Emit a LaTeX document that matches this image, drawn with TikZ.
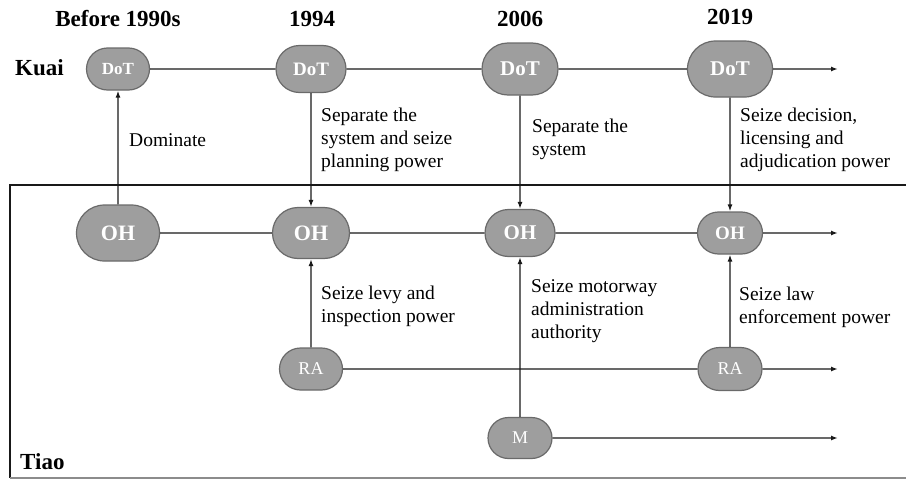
\documentclass[tikz,border=0pt]{standalone}
\usepackage{fontspec}
\setmainfont{Liberation Serif}
\usetikzlibrary{arrows.meta,shapes.misc}
\definecolor{nodefill}{HTML}{9E9E9E}
\definecolor{nodeline}{HTML}{6A6A6A}
\begin{document}
\begin{tikzpicture}[x=1pt,y=-1pt,
  actor/.style={rounded rectangle,draw=nodeline,fill=nodefill,line width=1.2pt,text=white,inner sep=0pt},
  link/.style={line width=1.4pt,draw=black!90},
  arr/.style={link,-{Latex[length=7pt,width=5pt]}},
  lbl/.style={anchor=west,align=left,inner sep=0pt,font=\fontsize{19.5}{23}\selectfont},
  head/.style={inner sep=0pt,font=\fontsize{23}{26}\selectfont\bfseries}]
\useasboundingbox (0,0) rectangle (906,479);
\fill[white] (0,0) rectangle (906,479);
% headings
\node[head] (h1) at (118,19) {Before 1990s};
\node[head] (h2) at (312,19) {1994};
\node[head] (h3) at (520,19) {2006};
\node[head] (h4) at (730,17) {2019};
\node[head,anchor=west] (kuai) at (15,68) {Kuai};
\node[head,anchor=west] (tiao) at (20,462) {Tiao};
% frame
\draw[line width=1.4pt,draw=black!90] (906,185) -- (10,185) -- (10,478);
\draw[line width=1.3pt,draw=black!45] (10,478) -- (906,478);
% DoT
\node[actor,minimum width=63pt,minimum height=42pt,font=\fontsize{17}{17}\selectfont\bfseries] (d1) at (118,69) {DoT};
\node[actor,minimum width=70pt,minimum height=47pt,font=\fontsize{19}{19}\selectfont\bfseries] (d2) at (311,69) {DoT};
\node[actor,minimum width=76pt,minimum height=52pt,font=\fontsize{21}{21}\selectfont\bfseries] (d3) at (520,69) {DoT};
\node[actor,minimum width=85pt,minimum height=56pt,font=\fontsize{21}{21}\selectfont\bfseries] (d4) at (730,69) {DoT};
% OH
\node[actor,minimum width=83pt,minimum height=56pt,font=\fontsize{22}{22}\selectfont\bfseries] (o1) at (118,233) {OH};
\node[actor,minimum width=77pt,minimum height=51pt,font=\fontsize{22}{22}\selectfont\bfseries] (o2) at (311,233) {OH};
\node[actor,minimum width=70pt,minimum height=47pt,font=\fontsize{21}{21}\selectfont\bfseries] (o3) at (520,233) {OH};
\node[actor,minimum width=65pt,minimum height=42pt,font=\fontsize{19}{19}\selectfont\bfseries] (o4) at (730,233) {OH};
% RA, M
\node[actor,minimum width=63pt,minimum height=42pt,font=\fontsize{18}{18}\selectfont] (r1) at (311,369) {RA};
\node[actor,minimum width=64pt,minimum height=43pt,font=\fontsize{18}{18}\selectfont] (r2) at (730,369) {RA};
\node[actor,minimum width=64pt,minimum height=41pt,font=\fontsize{18}{18}\selectfont] (m) at (520,438) {M};
% end coordinates
\coordinate (ed) at (838,69);
\coordinate (eo) at (838,233);
\coordinate (er) at (838,369);
\coordinate (em) at (838,438);
% horizontal lines
\draw[link] (d1) -- (d2);
\draw[link] (d2) -- (d3);
\draw[link] (d3) -- (d4);
\draw[arr] (d4) -- (ed);
\draw[link] (o1) -- (o2);
\draw[link] (o2) -- (o3);
\draw[link] (o3) -- (o4);
\draw[arr] (o4) -- (eo);
\draw[link] (r1) -- (r2);
\draw[arr] (r2) -- (er);
\draw[arr] (m) -- (em);
% vertical arrows
\draw[arr] (o1) -- (d1);
\draw[arr] (d2) -- (o2);
\draw[arr] (d3) -- (o3);
\draw[arr] (d4) -- (o4);
\draw[arr] (r1) -- (o2);
\draw[arr] (m) -- (o3);
\draw[arr] (r2) -- (o4);
% labels
\node[lbl] (l1) at (129,140) {Dominate};
\node[lbl] (l2) at (321,140) {Separate the\\system and seize\\planning power};
\node[lbl] (l3) at (532,139) {Separate the\\system};
\node[lbl] (l4) at (740,140) {Seize decision,\\licensing and\\adjudication power};
\node[lbl] (l5) at (321,306) {Seize levy and\\inspection power};
\node[lbl] (l6) at (531,311) {Seize motorway\\administration\\authority};
\node[lbl] (l7) at (739,307) {Seize law\\enforcement power};
\end{tikzpicture}
\end{document}
